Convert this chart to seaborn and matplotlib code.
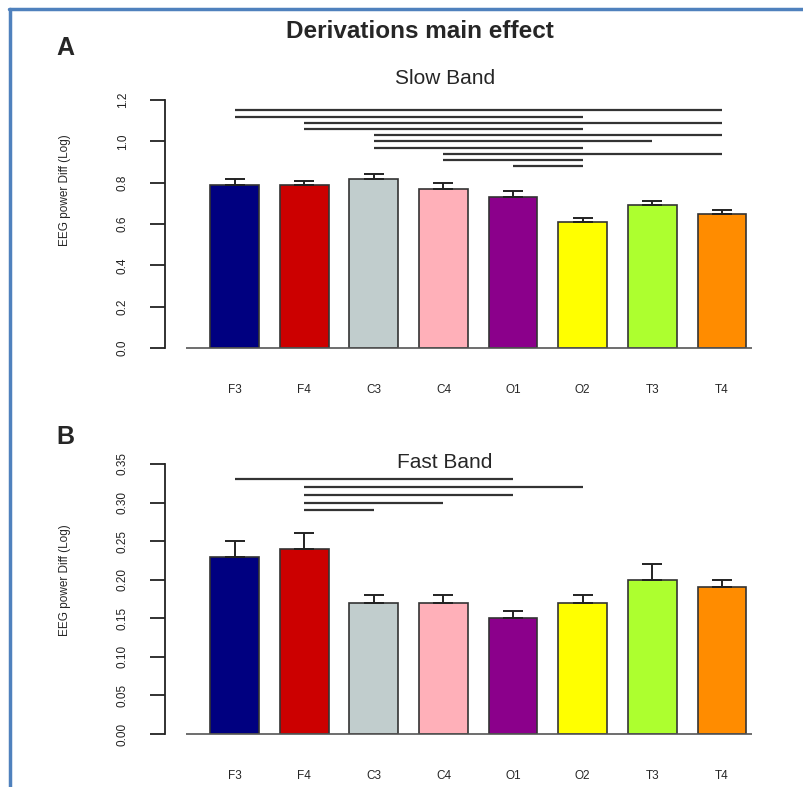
import numpy as np
import pandas as pd
import matplotlib
matplotlib.use("Agg")
import matplotlib.pyplot as plt
import seaborn as sns
from matplotlib.lines import Line2D

sns.set_style("white")
plt.rcParams['font.family'] = ['Liberation Sans', 'DejaVu Sans']

derivations = ["F3", "F4", "C3", "C4", "O1", "O2", "T3", "T4"]
bar_colors = ["#000080", "#CC0000", "#C1CDCD", "#FFB0B9",
              "#8B008B", "#FFFF00", "#ADFF2F", "#FF8C00"]

slow_mean = [0.79, 0.79, 0.82, 0.77, 0.73, 0.61, 0.69, 0.65]
slow_err = [0.03, 0.02, 0.02, 0.03, 0.03, 0.02, 0.02, 0.02]
fast_mean = [0.23, 0.24, 0.17, 0.17, 0.15, 0.17, 0.20, 0.19]
fast_err = [0.02, 0.02, 0.01, 0.01, 0.01, 0.01, 0.02, 0.01]

# significance brackets: (from, to, height)
slow_sig = [("F3", "T4", 1.15), ("F3", "O2", 1.12), ("F4", "T4", 1.09),
            ("F4", "O2", 1.06), ("C3", "T4", 1.03), ("C3", "T3", 1.00),
            ("C3", "O2", 0.97), ("C4", "T4", 0.94), ("C4", "O2", 0.91),
            ("O1", "O2", 0.88)]
fast_sig = [("F3", "O1", 0.33), ("F4", "O2", 0.32), ("F4", "O1", 0.31),
            ("F4", "C4", 0.30), ("F4", "C3", 0.29)]

W, H = 804, 787
fig = plt.figure(figsize=(W / 100, H / 100), dpi=100)


def panel(rect, means, errs, sig, ymax, ticks, fmt):
    ax = fig.add_axes(rect)
    df = pd.DataFrame({"deriv": derivations, "val": means})
    sns.barplot(data=df, x="deriv", y="val", hue="deriv", palette=bar_colors,
                width=0.7, edgecolor="#333333", linewidth=1.2,
                errorbar=None, legend=False, ax=ax, saturation=1)
    xs = np.arange(len(derivations))
    ax.errorbar(xs, means, yerr=[np.zeros(len(errs)), errs], fmt="none",
                ecolor="#222222", elinewidth=1.4, capsize=7, capthick=1.4)
    for a, b, h in sig:
        ax.hlines(h, derivations.index(a), derivations.index(b),
                  color="#333333", lw=1.6, clip_on=False)
    ax.hlines(0, -0.70, 7.43, color="#555555", lw=1.2, clip_on=False)
    ax.set_xlim(-1.0, 7.69)
    ax.set_ylim(0, ymax)
    ax.set_yticks(ticks)
    ax.set_yticklabels([fmt.format(t) for t in ticks], rotation=90, va="center")
    for s in ["top", "right", "bottom"]:
        ax.spines[s].set_visible(False)
    ax.spines["left"].set_bounds(0, ymax)
    ax.spines["left"].set_color("#222222")
    ax.spines["left"].set_linewidth(1.3)
    ax.tick_params(axis="y", length=11, width=1.3, pad=15, labelsize=8.5,
                   colors="#222222", left=True)
    ax.tick_params(axis="x", length=0, pad=26, labelsize=8.5)
    ax.set_xlabel("")
    ax.set_ylabel("")
    return ax


def rect(left, right, top, bottom):
    return [left / W, 1 - bottom / H, (right - left) / W, (bottom - top) / H]


axA = panel(rect(165, 770, 100, 348), slow_mean, slow_err, slow_sig,
            1.2, np.arange(0, 1.21, 0.2), "{:.1f}")
axB = panel(rect(165, 770, 464, 734), fast_mean, fast_err, fast_sig,
            0.35, np.arange(0, 0.351, 0.05), "{:.2f}")

fig.text(65 / W, 1 - 190 / H, "EEG power Diff (Log)", rotation=90,
         ha="center", va="center", fontsize=8.5)
fig.text(65 / W, 1 - 580 / H, "EEG power Diff (Log)", rotation=90,
         ha="center", va="center", fontsize=8.5)

fig.text(420 / W, 1 - 31 / H, "Derivations main effect", ha="center",
         va="center", fontsize=17.5, fontweight="bold")
fig.text(65 / W, 1 - 48 / H, "A", ha="center", va="center", fontsize=18,
         fontweight="bold")
fig.text(65 / W, 1 - 437 / H, "B", ha="center", va="center", fontsize=18,
         fontweight="bold")
fig.text(445 / W, 1 - 78 / H, "Slow Band", ha="center", va="center",
         fontsize=15)
fig.text(445 / W, 1 - 462 / H, "Fast Band", ha="center", va="center",
         fontsize=15)

# blue frame of the original slide
frame = "#4F81BD"
fig.add_artist(Line2D([9 / W, 1], [1 - 9 / H, 1 - 9 / H], color=frame, lw=2.5,
                      transform=fig.transFigure))
fig.add_artist(Line2D([10 / W, 10 / W], [0, 1 - 9 / H], color=frame, lw=2.5,
                      transform=fig.transFigure))

fig.savefig("out.png", dpi=100)
